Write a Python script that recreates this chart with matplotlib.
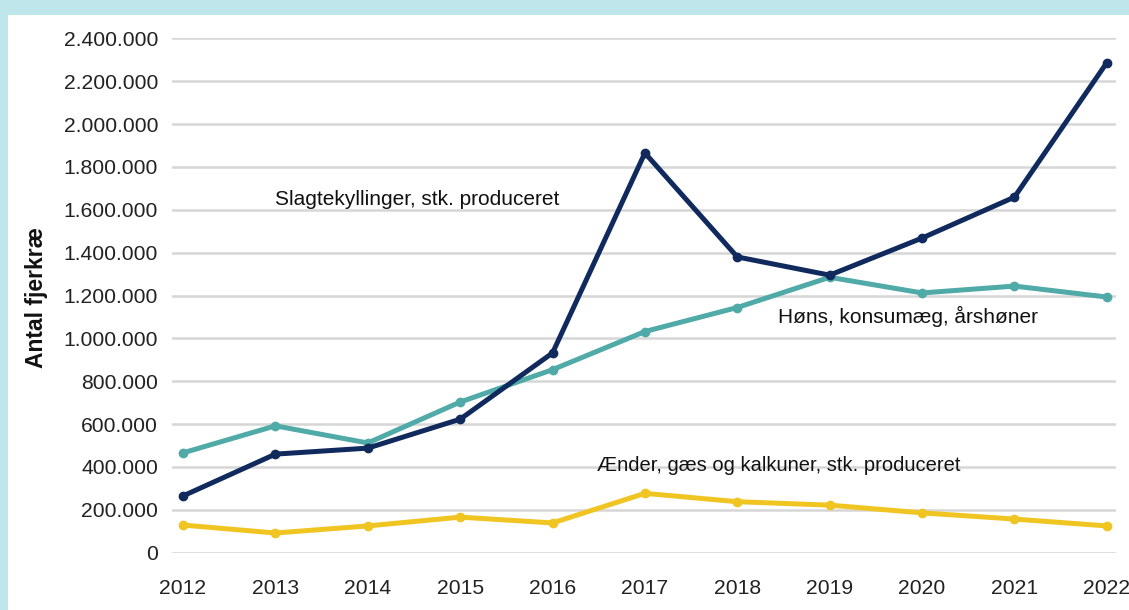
import matplotlib
matplotlib.use('Agg')
import matplotlib.pyplot as plt
from matplotlib.patches import Rectangle
from matplotlib.ticker import FuncFormatter

# --- Data ---
years = [2012, 2013, 2014, 2015, 2016, 2017, 2018, 2019, 2020, 2021, 2022]
slagtekyllinger = [265000, 460000, 488000, 623000, 932000, 1865000,
                   1380000, 1295000, 1468000, 1659000, 2286000]
hoens = [466000, 592000, 512000, 703000, 854000, 1032000,
         1144000, 1285000, 1212000, 1244000, 1193000]
aender = [129000, 92000, 125000, 166000, 139000, 277000,
          238000, 222000, 186000, 157000, 125000]

label_slagt = "Slagtekyllinger, stk. produceret"
label_hoens = "Høns, konsumæg, årshøner"
label_aender = "Ænder, gæs og kalkuner, stk. produceret"
y_ticks = list(range(0, 2400001, 200000))

NAVY = '#102a5e'
TEAL = '#4faaa8'
YELLOW = '#f0c522'
BG = '#bfe6eb'

plt.rcParams['font.family'] = ['Liberation Sans', 'DejaVu Sans']

fig = plt.figure(figsize=(11.29, 6.10), dpi=100)
fig.patch.set_facecolor(BG)
# white panel inside the light blue frame
panel = Rectangle((8 / 1129, 0), 1, 1 - 15 / 610, transform=fig.transFigure,
                  facecolor='white', edgecolor='none', zorder=-5)
fig.add_artist(panel)

ax = fig.add_axes([0.1523, 0.0939, 0.8362, 0.8433])
ax.set_facecolor('none')
ax.set_zorder(2)

for vals, col in [(aender, YELLOW), (hoens, TEAL), (slagtekyllinger, NAVY)]:
    ax.plot(years, vals, color=col, linewidth=3.6, marker='o', markersize=6,
            clip_on=False, zorder=3)

ax.set_xlim(2011.88, 2022.10)
ax.set_ylim(0, 2400000)
ax.set_xticks(years)
ax.set_yticks(y_ticks)
ax.yaxis.set_major_formatter(FuncFormatter(lambda v, p: f"{int(v):,}".replace(',', '.')))
ax.grid(axis='y', color='#d6d6d6', linewidth=1.8, zorder=0)
ax.set_axisbelow(True)
for s in ax.spines.values():
    s.set_visible(False)
ax.tick_params(axis='both', length=0, labelsize=15.2, colors='#222222')
ax.tick_params(axis='y', pad=10)
ax.tick_params(axis='x', pad=19)

# series labels inside the plot
ax.text(2013.0, 1646000, label_slagt, fontsize=15, va='center', ha='left', color='#111111')
ax.text(2018.44, 1100000, label_hoens, fontsize=15, va='center', ha='left', color='#111111')
ax.text(2016.48, 409000, label_aender, fontsize=14.5, va='center', ha='left', color='#111111')

fig.text(36 / 1129, 1 - 298 / 610, "Antal fjerkræ", rotation=90, ha='center', va='center',
         fontsize=16.5, fontweight='bold', color='#111111')

plt.savefig('out.png', dpi=100, facecolor=fig.get_facecolor())
plt.close()
